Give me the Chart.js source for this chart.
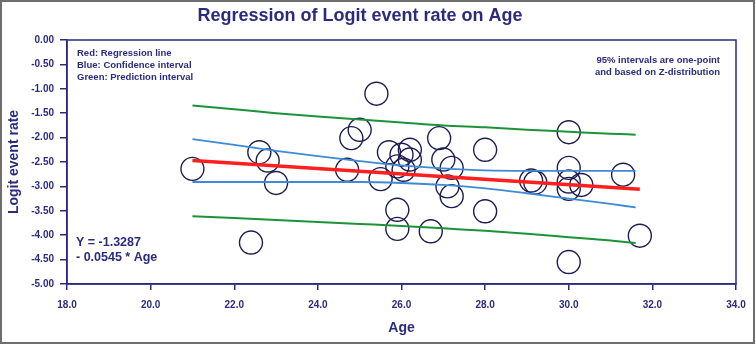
<!DOCTYPE html>
<html>
<head>
<meta charset="utf-8">
<title>Regression of Logit event rate on Age</title>
<script src="https://cdn.jsdelivr.net/npm/chart.js@4.4.1/dist/chart.umd.min.js"></script>
<style>
  body { margin: 0; background: #fff; }
  canvas { display: block; }
</style>
</head>
<body>
<canvas id="myChart" width="756" height="344"></canvas>
<script>
const ages = [21.0, 22.4, 22.6, 22.8, 23.0, 24.7, 24.8, 25.0, 25.4, 25.5, 25.7, 25.9,
  25.9, 25.9, 26.0, 26.05, 26.2, 26.2, 26.7, 26.9, 27.0, 27.1, 27.2, 27.2,
  28.0, 28.0, 29.1, 29.2, 30.0, 30.0, 30.0, 30.0, 30.3, 30.0, 31.3, 31.7];
const logitRates = [-2.64, -4.15, -2.30, -2.47, -2.93, -2.66, -2.01, -1.84, -1.10, -2.85, -2.30, -2.59,
  -3.48, -3.87, -2.35, -2.66, -2.25, -2.45, -3.92, -2.01, -2.45, -3.00, -2.62, -3.20,
  -2.25, -3.51, -2.88, -2.92, -1.89, -2.62, -2.90, -3.05, -2.97, -4.55, -2.76, -4.01];

const fitAges = [21.0, 31.7];
const fitRates = [-2.47, -3.06];

const bandAges = [21, 22, 23, 24, 25, 26, 27, 28, 29, 30, 31, 31.6];
const ciUpper = [-2.03, -2.15, -2.27, -2.38, -2.48, -2.57, -2.63, -2.67, -2.68, -2.68, -2.68, -2.68];
const ciLower = [-2.91, -2.91, -2.91, -2.91, -2.91, -2.93, -2.97, -3.04, -3.14, -3.25, -3.36, -3.43];
const piUpper = [-1.34, -1.42, -1.50, -1.57, -1.63, -1.69, -1.75, -1.79, -1.84, -1.88, -1.92, -1.94];
const piLower = [-3.61, -3.65, -3.69, -3.73, -3.77, -3.81, -3.86, -3.91, -3.97, -4.04, -4.11, -4.16];

const navy = "#2b2b7c";
const fontFamily = "'Liberation Sans', Arial, sans-serif";

function toPoints(xs, ys) {
  return xs.map((x, i) => ({ x: x, y: ys[i] }));
}

function lineSet(xs, ys, color, width) {
  return {
    type: "line",
    data: toPoints(xs, ys),
    borderColor: color,
    borderWidth: width,
    pointRadius: 0,
    fill: false,
    cubicInterpolationMode: "monotone"
  };
}

const textPlugin = {
  id: "texts",
  afterDraw(chart) {
    const ctx = chart.ctx;
    const area = chart.chartArea;
    ctx.save();

    // frame around the picture and round the plot
    ctx.strokeStyle = "#6e6e6e";
    ctx.lineWidth = 2;
    ctx.strokeRect(1, 1, 753, 342);
    ctx.strokeStyle = navy;
    ctx.lineWidth = 1.5;
    ctx.strokeRect(area.left, area.top, area.right - area.left, area.bottom - area.top);

    ctx.fillStyle = navy;
    ctx.textBaseline = "middle";
    ctx.textAlign = "center";
    ctx.font = "bold 18px " + fontFamily;
    ctx.fillText("Regression of Logit event rate on Age", 360, 16);

    ctx.textAlign = "left";
    ctx.font = "bold 9.5px " + fontFamily;
    ctx.fillText("Red: Regression line", 77, 53);
    ctx.fillText("Blue: Confidence interval", 77, 65);
    ctx.fillText("Green: Prediction interval", 77, 77);

    ctx.textAlign = "right";
    ctx.fillText("95% intervals are one-point", 720, 60);
    ctx.fillText("and based on Z-distribution", 720, 72);

    ctx.textAlign = "left";
    ctx.font = "bold 12.5px " + fontFamily;
    ctx.fillText("Y = -1.3287", 76, 243);
    ctx.fillText("- 0.0545 * Age", 76, 258);
    ctx.restore();
  }
};

const chart = new Chart(document.getElementById("myChart"), {
  type: "scatter",
  data: {
    datasets: [
      lineSet(fitAges, fitRates, "#ff1f1f", 3.5),
      lineSet(bandAges, ciUpper, "#3d8ad6", 1.8),
      lineSet(bandAges, ciLower, "#3d8ad6", 1.8),
      lineSet(bandAges, piUpper, "#1c9338", 2),
      lineSet(bandAges, piLower, "#1c9338", 2),
      {
        data: toPoints(ages, logitRates),
        pointRadius: 11.5,
        pointHoverRadius: 11.5,
        backgroundColor: "rgba(0,0,0,0)",
        borderColor: "#1d1d52",
        borderWidth: 1.4
      }
    ]
  },
  plugins: [textPlugin],
  options: {
    responsive: false,
    animation: false,
    devicePixelRatio: 1,
    layout: { padding: { left: 0, right: 20, top: 40, bottom: 0 } },
    plugins: {
      legend: { display: false },
      tooltip: { enabled: false }
    },
    scales: {
      x: {
        type: "linear",
        min: 18,
        max: 34,
        afterFit(scale) { scale.height = 60; },
        ticks: {
          stepSize: 2,
          color: navy,
          padding: 9,
          maxRotation: 0,
          font: { family: fontFamily, size: 10, weight: "bold" },
          callback: (v) => v.toFixed(1)
        },
        grid: { drawOnChartArea: false, tickLength: 6, color: navy, lineWidth: 1.5 },
        border: { color: navy, width: 1.5 },
        title: {
          display: true,
          text: "Age",
          color: navy,
          padding: { top: 0, bottom: 7 },
          font: { family: fontFamily, size: 14, weight: "bold" }
        }
      },
      y: {
        min: -5,
        max: 0,
        afterFit(scale) { scale.width = 67; },
        ticks: {
          stepSize: 0.5,
          color: navy,
          padding: 6,
          font: { family: fontFamily, size: 10, weight: "bold" },
          callback: (v) => v.toFixed(2)
        },
        grid: { drawOnChartArea: false, tickLength: 7, color: navy, lineWidth: 1.5 },
        border: { color: navy, width: 1.5 },
        title: {
          display: true,
          text: "Logit event rate",
          color: navy,
          padding: { top: 6, bottom: 0 },
          font: { family: fontFamily, size: 14, weight: "bold" }
        }
      }
    }
  }
});
</script>
</body>
</html>
